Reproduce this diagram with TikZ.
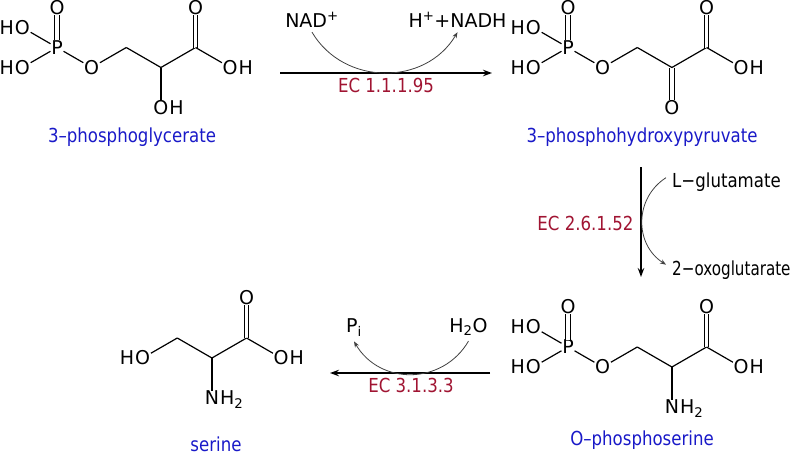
\documentclass[tikz,border=0pt]{standalone}
\usepackage{fontspec}
\setmainfont{DejaVu Sans}
\newfontfamily\labfont[FakeStretch=0.86]{DejaVu Sans}
\newfontfamily\narfont[FakeStretch=0.785]{DejaVu Sans}
\usetikzlibrary{arrows.meta}
\definecolor{labblue}{RGB}{25,25,200}
\definecolor{ecred}{RGB}{160,20,50}
\tikzset{
 atom/.style={inner xsep=0.6pt, inner ysep=0pt, font=\fontsize{19}{23}\selectfont},
 hl/.style={anchor=base east, inner sep=0pt, font=\fontsize{19}{23}\selectfont},
 hr/.style={anchor=base west, inner sep=0pt, font=\fontsize{19}{23}\selectfont},
 bond/.style={line width=1.2pt},
 dbond/.style={double, double distance=3.4pt, line width=1.1pt},
 rxn/.style={line width=1.4pt, -{Stealth[length=9pt,width=6.5pt]}},
 cof/.style={anchor=base, inner xsep=0pt, inner ysep=5pt, font=\fontsize{19}{23}\selectfont},
 side/.style={line width=0.8pt, black!75, -{Stealth[length=6pt,width=4.5pt]}},
 molname/.style={anchor=base, text=labblue, font=\labfont\fontsize{19.3}{23}\selectfont},
 ec/.style={text=ecred, font=\labfont\fontsize{19.3}{23}\selectfont},
 sidetext/.style={anchor=base west, inner xsep=6pt, inner ysep=0pt, font=\labfont\fontsize{19.3}{23}\selectfont},
}
\begin{document}
\begin{tikzpicture}[x=1pt, y=-1pt]
\useasboundingbox (0,0) rectangle (800,456);

% ---------- 3-phosphoglycerate ----------
\begin{scope}[shift={(57,47.5)}]
\node[atom] (aP) at (0,0) {P};
\node[atom] (aO1) at (0,-40) {O};
\node[atom] (aO2) at (-34.64,-20) {O}; \node[hl] (aH2) at (aO2.base west) {H};
\node[atom] (aO3) at (-34.64,20) {O}; \node[hl] (aH3) at (aO3.base west) {H};
\node[atom] (aO4) at (34.64,20) {O};
\coordinate (aC1) at (69.28,0);
\coordinate (aC2) at (103.92,20);
\node[atom] (aO5) at (103.92,60) {O}; \node[hr] (aH5) at (aO5.base east) {H};
\coordinate (aC3) at (138.56,0);
\node[atom] (aO6) at (138.56,-40) {O};
\node[atom] (aO7) at (173.2,20) {O}; \node[hr] (aH7) at (aO7.base east) {H};
\draw[dbond] (aP) -- (aO1);
\draw[bond] (aO2) -- (aP);
\draw[bond] (aO3) -- (aP);
\draw[bond] (aP) -- (aO4);
\draw[bond] (aO4) -- (aC1);
\draw[bond] (aC1) -- (aC2);
\draw[bond] (aC2) -- (aO5);
\draw[bond] (aC2) -- (aC3);
\draw[dbond] (aC3) -- (aO6);
\draw[bond] (aC3) -- (aO7);
\end{scope}
\node[molname] (aName) at (132,142) {3–phosphoglycerate};

% ---------- 3-phosphohydroxypyruvate ----------
\begin{scope}[shift={(568,47.5)}]
\node[atom] (bP) at (0,0) {P};
\node[atom] (bO1) at (0,-40) {O};
\node[atom] (bO2) at (-34.64,-20) {O}; \node[hl] (bH2) at (bO2.base west) {H};
\node[atom] (bO3) at (-34.64,20) {O}; \node[hl] (bH3) at (bO3.base west) {H};
\node[atom] (bO4) at (34.64,20) {O};
\coordinate (bC1) at (69.28,0);
\coordinate (bC2) at (103.92,20);
\node[atom] (bO5) at (103.92,60) {O};
\coordinate (bC3) at (138.56,0);
\node[atom] (bO6) at (138.56,-40) {O};
\node[atom] (bO7) at (173.2,20) {O}; \node[hr] (bH7) at (bO7.base east) {H};
\draw[dbond] (bP) -- (bO1);
\draw[bond] (bO2) -- (bP);
\draw[bond] (bO3) -- (bP);
\draw[bond] (bP) -- (bO4);
\draw[bond] (bO4) -- (bC1);
\draw[bond] (bC1) -- (bC2);
\draw[dbond] (bC2) -- (bO5);
\draw[bond] (bC2) -- (bC3);
\draw[dbond] (bC3) -- (bO6);
\draw[bond] (bC3) -- (bO7);
\end{scope}
\node[molname] (bName) at (642,142) {3–phosphohydroxypyruvate};

% ---------- O-phosphoserine ----------
\begin{scope}[shift={(568,347)}]
\node[atom] (cP) at (0,0) {P};
\node[atom] (cO1) at (0,-40) {O};
\node[atom] (cO2) at (-34.64,-20) {O}; \node[hl] (cH2) at (cO2.base west) {H};
\node[atom] (cO3) at (-34.64,20) {O}; \node[hl] (cH3) at (cO3.base west) {H};
\node[atom] (cO4) at (34.64,20) {O};
\coordinate (cC1) at (69.28,0);
\coordinate (cC2) at (103.92,20);
\node[atom] (cN) at (103.92,60) {N}; \node[hr] (cH5) at (cN.base east) {H\textsubscript{2}};
\coordinate (cC3) at (138.56,0);
\node[atom] (cO6) at (138.56,-40) {O};
\node[atom] (cO7) at (173.2,20) {O}; \node[hr] (cH7) at (cO7.base east) {H};
\draw[dbond] (cP) -- (cO1);
\draw[bond] (cO2) -- (cP);
\draw[bond] (cO3) -- (cP);
\draw[bond] (cP) -- (cO4);
\draw[bond] (cO4) -- (cC1);
\draw[bond] (cC1) -- (cC2);
\draw[bond] (cC2) -- (cN);
\draw[bond] (cC2) -- (cC3);
\draw[dbond] (cC3) -- (cO6);
\draw[bond] (cC3) -- (cO7);
\end{scope}
\node[molname] (cName) at (642,445) {O–phosphoserine};

% ---------- serine ----------
\begin{scope}[shift={(108,338)}]
\node[atom] (dO4) at (34.64,20) {O}; \node[hl] (dH4) at (dO4.base west) {H};
\coordinate (dC1) at (69.28,0);
\coordinate (dC2) at (103.92,20);
\node[atom] (dN) at (103.92,60) {N}; \node[hr] (dH5) at (dN.base east) {H\textsubscript{2}};
\coordinate (dC3) at (138.56,0);
\node[atom] (dO6) at (138.56,-40) {O};
\node[atom] (dO7) at (173.2,20) {O}; \node[hr] (dH7) at (dO7.base east) {H};
\draw[bond] (dO4) -- (dC1);
\draw[bond] (dC1) -- (dC2);
\draw[bond] (dC2) -- (dN);
\draw[bond] (dC2) -- (dC3);
\draw[dbond] (dC3) -- (dO6);
\draw[bond] (dC3) -- (dO7);
\end{scope}
\node[molname] (dName) at (216,451) {serine};

% ---------- reaction 1 ----------
\coordinate (r1a) at (280,73);
\coordinate (r1b) at (492,73);
\draw[rxn] (r1a) -- (r1b);
\node[cof] (nad) at (312,27) {NAD\textsuperscript{+}};
\node[cof] (nadh) at (457.5,27) {H\textsuperscript{+}+NADH};
\draw[side] (nad.south) .. controls +(32,54) and +(-32,54) .. (nadh.south);
\node[ec, anchor=base] (ec1) at (386,92) {EC 1.1.1.95};

% ---------- reaction 2 ----------
\coordinate (r2a) at (641,167);
\coordinate (r2b) at (641,277);
\draw[rxn] (r2a) -- (r2b);
\node[sidetext] (lglu) at (666,187) {L−glutamate};
\node[sidetext, font=\narfont\fontsize{19.3}{23}\selectfont] (oxo) at (666,275) {2−oxoglutarate};
\draw[side] ([yshift=4pt]lglu.west) .. controls +(-31.8,20.5) and +(-31.8,-20.5) .. ([yshift=5pt]oxo.west);
\node[ec, anchor=base east] (ec2) at (637,230) {EC 2.6.1.52};

% ---------- reaction 3 ----------
\coordinate (r3a) at (490,373);
\coordinate (r3b) at (330,373);
\draw[rxn] (r3a) -- (r3b);
\node[cof] (h2o) at (468.5,332) {H\textsubscript{2}O};
\node[cof] (pi) at (354,332) {P\textsubscript{i}};
\draw[side] (h2o.south) .. controls +(-25.8,44.1) and +(25.8,44.1) .. (pi.south);
\node[ec, anchor=base] (ec3) at (411,392) {EC 3.1.3.3};
\end{tikzpicture}
\end{document}
